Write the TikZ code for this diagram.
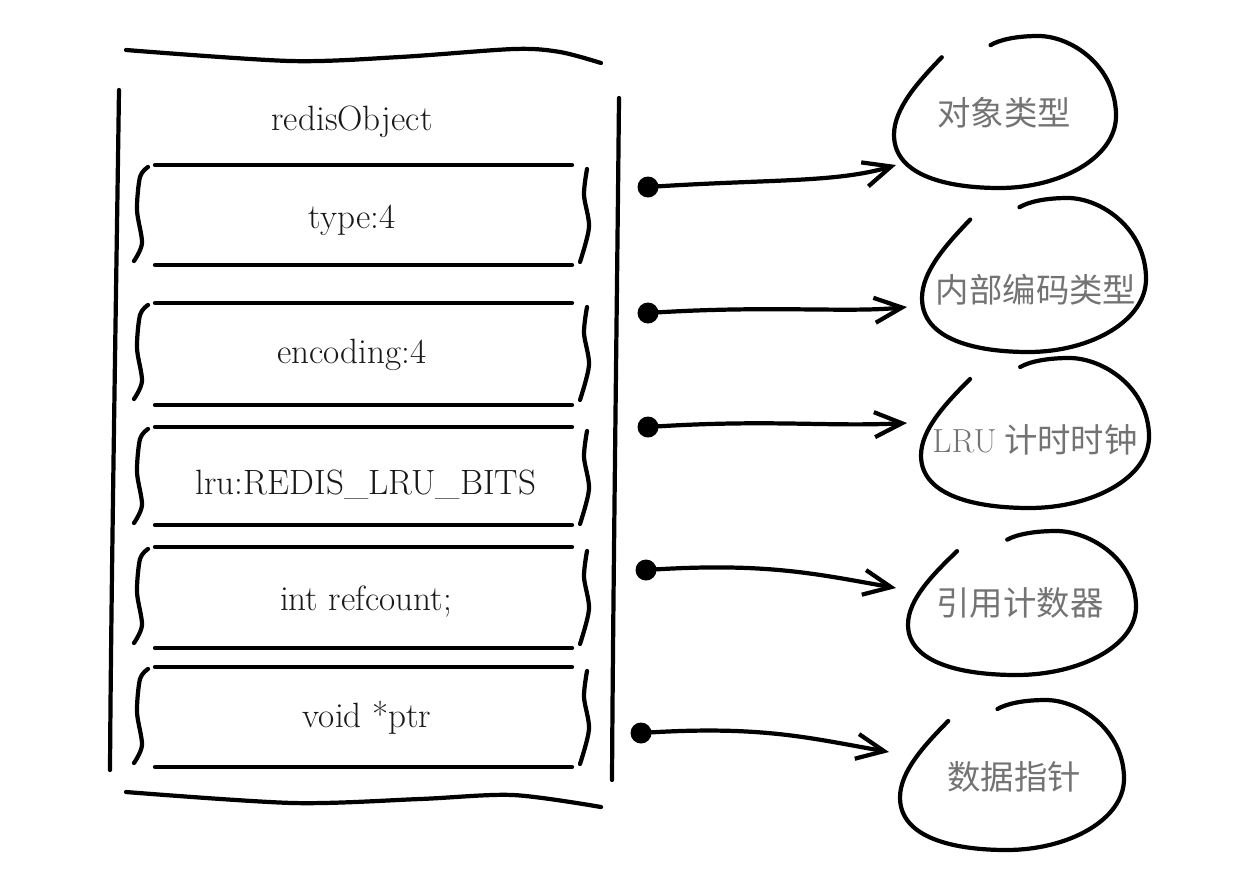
\documentclass[tikz,border=0pt]{standalone}
\usepackage{fontspec}
\newfontfamily\cjk{Noto Sans CJK SC}
\usetikzlibrary{arrows.meta}
\tikzset{
  pen/.style={line width=2.4pt, line cap=round, line join=round},
  conn/.style={pen, -{Straight Barb[length=5.5mm,width=5mm]}},
  dot/.style={circle, fill, inner sep=0pt, minimum size=0.42cm},
  field/.style={anchor=base, font=\fontsize{20}{22}\selectfont, text=black!90},
  tag/.style={font=\cjk\fontsize{19}{22}\selectfont, text=black!55}
}
% open hand-drawn bubble: centre x, centre y, half width, half height
\newcommand{\blob}[4]{\draw[pen] ({#1-0.57*#3},{#2-0.72*#4})
  .. controls ({#1-0.78*#3},{#2-0.4*#4}) and ({#1-#3},{#2-0.05*#4}) .. ({#1-#3},{#2+0.3*#4})
  .. controls ({#1-#3},{#2+0.85*#4}) and ({#1-0.5*#3},{#2+#4}) .. ({#1-0.05*#3},{#2+#4})
  .. controls ({#1+0.5*#3},{#2+#4}) and ({#1+#3},{#2+0.6*#4}) .. ({#1+#3},{#2+0.05*#4})
  .. controls ({#1+#3},{#2-0.6*#4}) and ({#1+0.6*#3},{#2-#4}) .. ({#1+0.3*#3},{#2-#4})
  .. controls ({#1+0.1*#3},{#2-#4}) and ({#1-0.05*#3},{#2-0.95*#4}) .. ({#1-0.13*#3},{#2-0.88*#4});}
\begin{document}
\begin{tikzpicture}[x=0.02cm,y=-0.02cm]
\useasboundingbox (0,0) rectangle (1239,886);
% outer box
\draw[pen] plot[smooth] coordinates {(126,50) (290,61) (400,57) (514,49) (560,52) (601,63)};
\draw[pen] plot[smooth] coordinates {(126,792) (293,803) (420,799) (513,795) (601,807)};
\draw[pen] (119,90) .. controls (116,300) and (111,600) .. (110,770);
\draw[pen] (619,98) .. controls (617,300) and (613,600) .. (612,780);
\node[field] (head) at (352,130) {redisObject};

% fields
\foreach \i/\t/\b/\x/\y/\txt in {1/165/265/352/228/{type:4}, 2/303/405/352/363/{encoding:4}, 3/427/525/366/494/{lru:REDIS\_LRU\_BITS}, 4/547/648/366/610/{int refcount;}, 5/667/767/367/727/{void *ptr}} {
  \draw[pen] (155,\t) -- (572,\t);
  \draw[pen] (155,\b) -- (572,\b);
  \draw[pen] plot[smooth] coordinates {(148,\t+2) (140,\t+12) (137,\t+45) (142,\t+78) (134,\t+96)};
  \draw[pen] plot[smooth] coordinates {(587,\t+4) (584,\t+30) (589,\t+62) (580,\t+97)};
  \node[field] (f\i) at (\x,\y) {\txt};
}

% tags
\node[tag] (k1) at (1004,113) {对象类型};
\node[tag] (k2) at (1036,290) {内部编码类型};
\node[tag] (k3) at (1035,440) {{\rmfamily LRU} 计时时钟};
\node[tag] (k4) at (1020,603) {引用计数器};
\node[tag] (k5) at (1014,777) {数据指针};
\blob{1005}{112}{111}{76}
\blob{1034}{275}{112}{77}
\blob{1035}{433}{114}{75}
\blob{1022}{603}{114}{72}
\blob{1012}{775}{112}{75}

% pointers
\foreach \i/\dx/\dy/\tx/\ty/\ox/\oy in {1/648/187/896/165/-60/18, 2/648/313/907/307/-60/6, 3/648/427/907/423/-80/4, 4/646/570/896/588/-80/-14, 5/641/733/889/752/-80/-14} {
  \node[dot] (d\i) at (\dx,\dy) {};
  \coordinate (t\i) at (\tx,\ty);
  \draw[conn] (d\i.center) .. controls +(120,-8) and +(\ox,\oy) .. (t\i);
}
\end{tikzpicture}
\end{document}
